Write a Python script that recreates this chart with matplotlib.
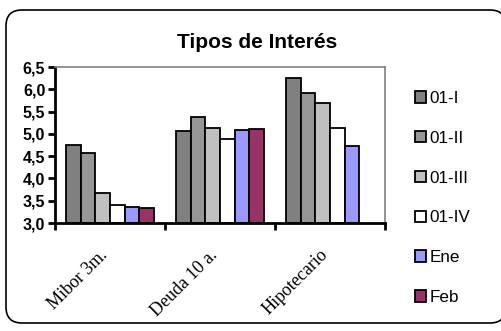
import matplotlib
matplotlib.use('Agg')
import matplotlib.pyplot as plt
import matplotlib.ticker as mticker
from matplotlib.patches import FancyBboxPatch, Patch
from matplotlib.transforms import IdentityTransform
import numpy as np

# Tipos de interés por categoría y periodo
categorias = ['Mibor 3m.', 'Deuda 10 a.', 'Hipotecario']
series = ['01-I', '01-II', '01-III', '01-IV', 'Ene', 'Feb']
valores = {
    '01-I':   [4.74, 5.06, 6.25],
    '01-II':  [4.56, 5.38, 5.91],
    '01-III': [3.67, 5.14, 5.69],
    '01-IV':  [3.40, 4.89, 5.13],
    'Ene':    [3.37, 5.09, 4.72],
    'Feb':    [3.34, 5.12, np.nan],
}
colores = ['#808080', '#969696', '#C0C0C0', '#FFFFFF', '#9999FF', '#993366']
yticks = [3.0, 3.5, 4.0, 4.5, 5.0, 5.5, 6.0, 6.5]

W, H = 502, 331
fig = plt.figure(figsize=(W / 100, H / 100), dpi=100)
fig.patch.set_facecolor('white')

# marco redondeado del gráfico
marco = FancyBboxPatch((6, 8), 500, 313, boxstyle='round,pad=0,rounding_size=16',
                       transform=IdentityTransform(), facecolor='white',
                       edgecolor='black', linewidth=1.2, zorder=-10)
fig.add_artist(marco)

ax = fig.add_axes([55 / W, 1 - 223 / H, 330 / W, 156 / H])
ax.set_facecolor('white')

ancho = 1 / 7.5
x = np.arange(len(categorias)) + 0.5
for i, (s, c) in enumerate(zip(series, colores)):
    ax.bar(x + (i - 2.5) * ancho, np.array(valores[s]) - 3.0, bottom=3.0,
           width=ancho, color=c, edgecolor='black', linewidth=1.3, label=s)

ax.set_xlim(0, 3)
ax.set_ylim(3.0, 6.5)
ax.set_yticks(yticks)
ax.yaxis.set_major_formatter(mticker.FuncFormatter(lambda v, p: f'{v:.1f}'.replace('.', ',')))
for t in ax.get_yticklabels():
    t.set_fontfamily('Liberation Sans')
    t.set_fontweight('bold')
    t.set_fontsize(11.5)
ax.tick_params(axis='y', direction='out', length=5, width=2, pad=2)

# ticks en los límites de categoría, etiquetas centradas
ax.set_xticks([0, 1, 2, 3])
ax.set_xticklabels([])
ax.tick_params(axis='x', direction='out', length=5, width=2)
for xi, cat in zip(x, categorias):
    ax.text(xi - 0.1, 2.47, cat, rotation=45, ha='right', va='top',
            rotation_mode='anchor', fontfamily='Liberation Serif', fontsize=13,
            transform=ax.transData, clip_on=False)

for lado in ['left', 'bottom']:
    ax.spines[lado].set_linewidth(2)
    ax.spines[lado].set_color('black')
for lado in ['top', 'right']:
    ax.spines[lado].set_linewidth(1.2)
    ax.spines[lado].set_color('#808080')

fig.text(257 / W, 1 - 43 / H, 'Tipos de Interés', ha='center', va='center',
         fontfamily='Liberation Sans', fontweight='bold', fontsize=15)

handles = [Patch(facecolor=c, edgecolor='black', linewidth=1.3) for c in colores]
leg = fig.legend(handles, series, loc='upper left', bbox_to_anchor=(415 / W, 1 - 91 / H),
                 frameon=False, prop={'family': 'Liberation Sans', 'size': 12.3},
                 handlelength=0.65, handleheight=0.65, handletextpad=0.2,
                 labelspacing=1.45, borderaxespad=0, borderpad=0)

fig.savefig('out.png', dpi=100, facecolor='white')
